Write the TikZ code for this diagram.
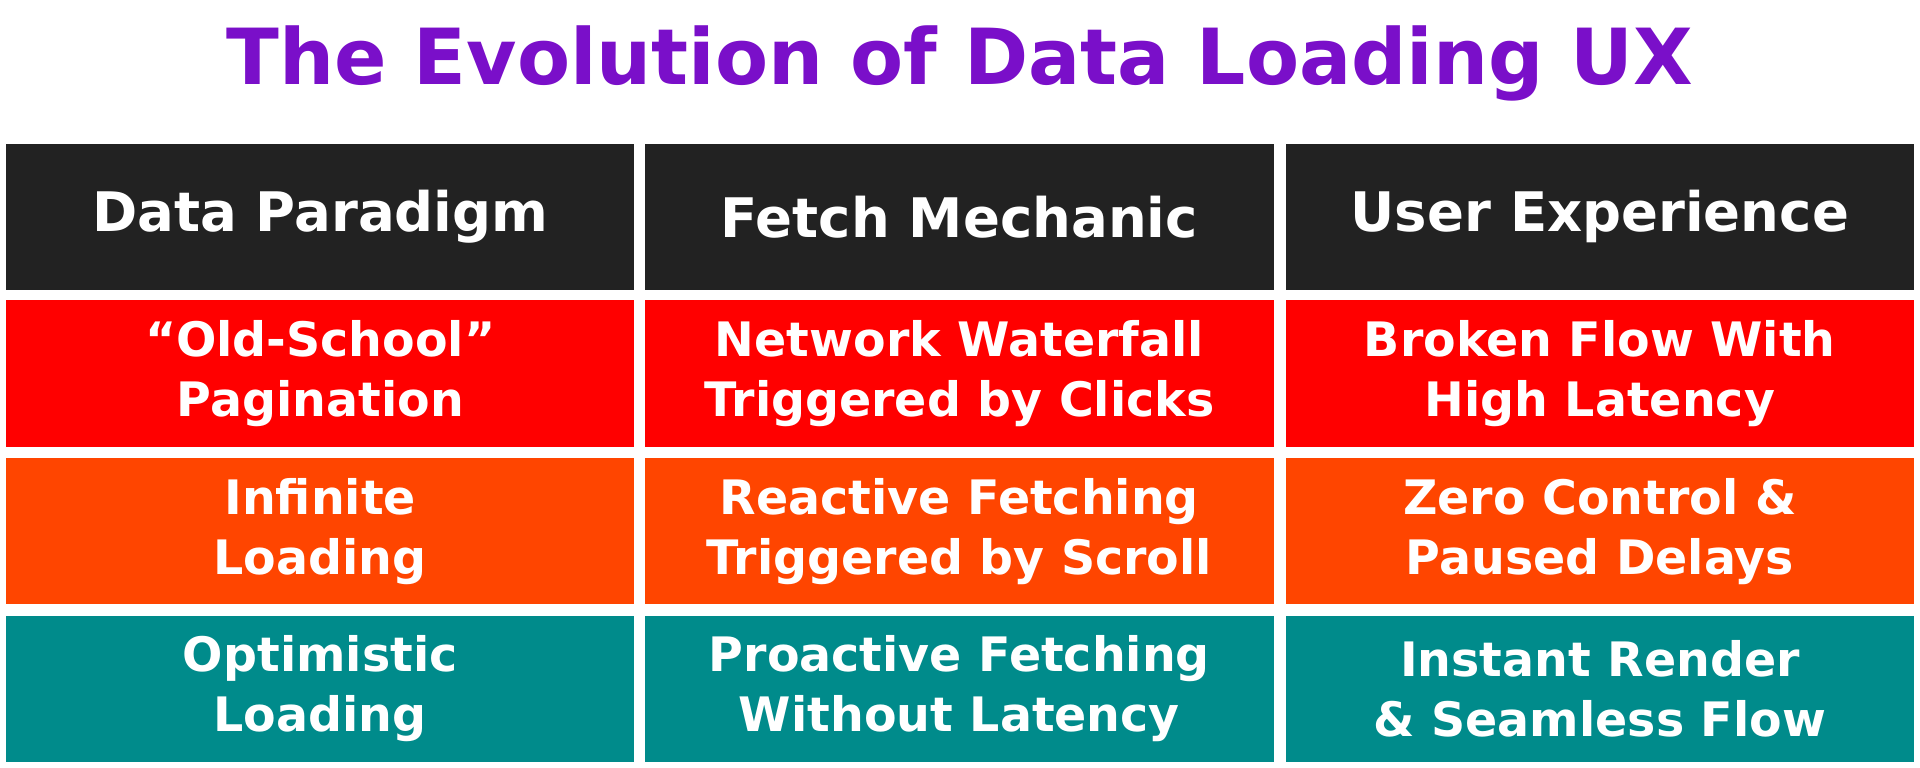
\documentclass[tikz,border=0pt]{standalone}
\usepackage{fontspec}
\setmainfont{DejaVu Sans}
\usepackage{xcolor}
\usetikzlibrary{positioning}
\definecolor{titlePurple}{HTML}{7A0FC9}
\definecolor{headDark}{HTML}{222222}
\definecolor{rowRed}{HTML}{FF0000}
\definecolor{rowOrange}{HTML}{FF4500}
\definecolor{rowTeal}{HTML}{008B8B}

\begin{document}
\begin{tikzpicture}[x=0.012245cm, y=-0.012245cm]
  \tikzset{
    uxCell/.style={draw=none, inner sep=0pt, outer sep=0pt, minimum width=6.28cm, minimum height=1.46cm, align=center, text=white, font=\bfseries\fontsize{13.5}{17}\selectfont},
    uxHead/.style={uxCell, fill=headDark, font=\bfseries\fontsize{15.5}{19}\selectfont},
    uxRed/.style={uxCell, fill=rowRed},
    uxOrange/.style={uxCell, fill=rowOrange},
    uxTeal/.style={uxCell, fill=rowTeal}
  }
  \useasboundingbox (0,0) rectangle (1568,627);

  % --- Title ---
  \node[font=\bfseries\fontsize{22}{26}\selectfont, text=titlePurple] (title) at (784,52) {The Evolution of Data Loading UX};

  % --- Header row ---
  \node[uxHead] (h-1) at (261.5,177) {Data Paradigm};
  \node[uxHead] (h-2) at (783.5,177) {Fetch Mechanic};
  \node[uxHead] (h-3) at (1306.5,177) {User Experience};

  % --- Row 1 ---
  \node[uxRed] (r1-1) at (261.5,305) {“Old-School”\\Pagination};
  \node[uxRed] (r1-2) at (783.5,305) {Network Waterfall\\Triggered by Clicks};
  \node[uxRed] (r1-3) at (1306.5,305) {Broken Flow With\\High Latency};

  % --- Row 2 ---
  \node[uxOrange] (r2-1) at (261.5,434) {Infinite\\Loading};
  \node[uxOrange] (r2-2) at (783.5,434) {Reactive Fetching\\Triggered by Scroll};
  \node[uxOrange] (r2-3) at (1306.5,434) {Zero Control \&\\Paused Delays};

  % --- Row 3 ---
  \node[uxTeal] (r3-1) at (261.5,562.5) {Optimistic\\Loading};
  \node[uxTeal] (r3-2) at (783.5,562.5) {Proactive Fetching\\Without Latency};
  \node[uxTeal] (r3-3) at (1306.5,562.5) {Instant Render\\\& Seamless Flow};
\end{tikzpicture}
\end{document}
